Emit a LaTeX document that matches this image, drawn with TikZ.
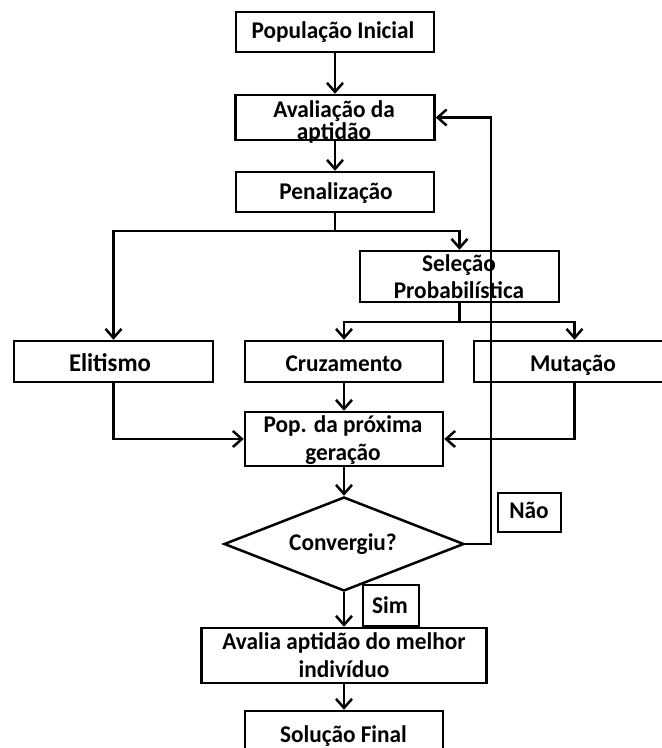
\documentclass[tikz,border=0pt]{standalone}
\usepackage{fontspec}
\setmainfont{Carlito}[FakeStretch=0.97]
\usetikzlibrary{arrows.meta,shapes.geometric}
\begin{document}
\begin{tikzpicture}[x=1pt,y=-1pt,
  line width=2.5pt,
  >={Straight Barb[length=9pt,width=16pt]},
  box/.style={draw, rectangle, inner sep=0pt},
  decision/.style={draw, diamond, inner sep=0pt,
    minimum width=240pt, minimum height=94pt},
  lbl/.style={inner sep=0pt, anchor=base, align=center,
    font=\fontsize{24}{26}\selectfont\bfseries},
  flow/.style={->}
]
\useasboundingbox (0,0) rectangle (662,748);
\clip (0,0) rectangle (662,748);

% frames
\node[box, minimum width=198pt, minimum height=40pt] (pop) at (335,32) {};
\node[box, minimum width=199pt, minimum height=45pt] (aval) at (335,117.5) {};
\node[box, minimum width=198pt, minimum height=40pt] (pen) at (335,192) {};
\node[box, minimum width=199pt, minimum height=51pt] (sel) at (459.5,276.5) {};
\node[box, minimum width=199pt, minimum height=41pt] (elit) at (113.5,361.5) {};
\node[box, minimum width=198pt, minimum height=41pt] (cruz) at (344,361.5) {};
\node[box, minimum width=201pt, minimum height=41pt] (mut) at (574.5,361.5) {};
\node[box, minimum width=198pt, minimum height=54pt] (next) at (344,439) {};
\node[decision] (conv) at (344,544) {};
\node[box, minimum width=63pt, minimum height=39pt] (nao) at (529.5,512.5) {};
\node[box, minimum width=56pt, minimum height=41pt] (sim) at (391,605.5) {};
\node[box, minimum width=285pt, minimum height=55pt] (best) at (344,655.5) {};
\node[box, minimum width=198pt, minimum height=46pt] (sol) at (344,734) {};

% texts, placed on the baseline of their last line
\node[lbl] (tpop) at (333,38) {População Inicial};
\node[lbl] (taval) at (334,139) {Avaliação da\\[-4pt]aptidão};
\node[lbl] (tpen) at (336,199) {Penalização};
\node[lbl] (tsel) at (459,298) {Seleção\\[1pt]Probabilística};
\node[lbl, font=\fontsize{25.5}{26}\selectfont\bfseries] (telit) at (110,371) {Elitismo};
\node[lbl] (tcruz) at (344,371) {Cruzamento};
\node[lbl] (tmut) at (573,371) {Mutação};
\node[lbl] (tnext) at (343,460) {Pop. da próxima\\[2pt]geração};
\node[lbl] (tconv) at (343,550) {Convergiu?};
\node[lbl] (tnao) at (529,518) {Não};
\node[lbl] (tsim) at (390,613) {Sim};
\node[lbl] (tbest) at (344,677) {Avalia aptidão do melhor\\[2pt]indivíduo};
\node[lbl] (tsol) at (343.5,742) {Solução Final};

% connectors
\draw[flow] (pop) -- (aval);
\draw[flow] (aval) -- (pen);
\coordinate (split) at (335,231);
\draw[flow] (pen.south) -- (split) -| (elit.north);
\draw[flow] (split) -| (sel.north);
\coordinate (fork) at (459.5,322);
\draw[flow] (sel.south) -- (fork) -| (cruz.north);
\draw[flow] (fork) -| (mut.north);
\draw[flow] (elit.south) |- (next.west);
\draw[flow] (cruz.south) -- (next.north);
\draw[flow] (mut.south) |- (next.east);
\draw[flow] (next.south) -- (conv.north);
\draw[flow] (conv.south) -- (best.north);
\draw[flow] (best.south) -- (sol.north);

% loop back when not converged
\coordinate (back) at (491,544);
\draw[flow] (conv.east) -- (back) |- (aval.east);
\end{tikzpicture}
\end{document}
